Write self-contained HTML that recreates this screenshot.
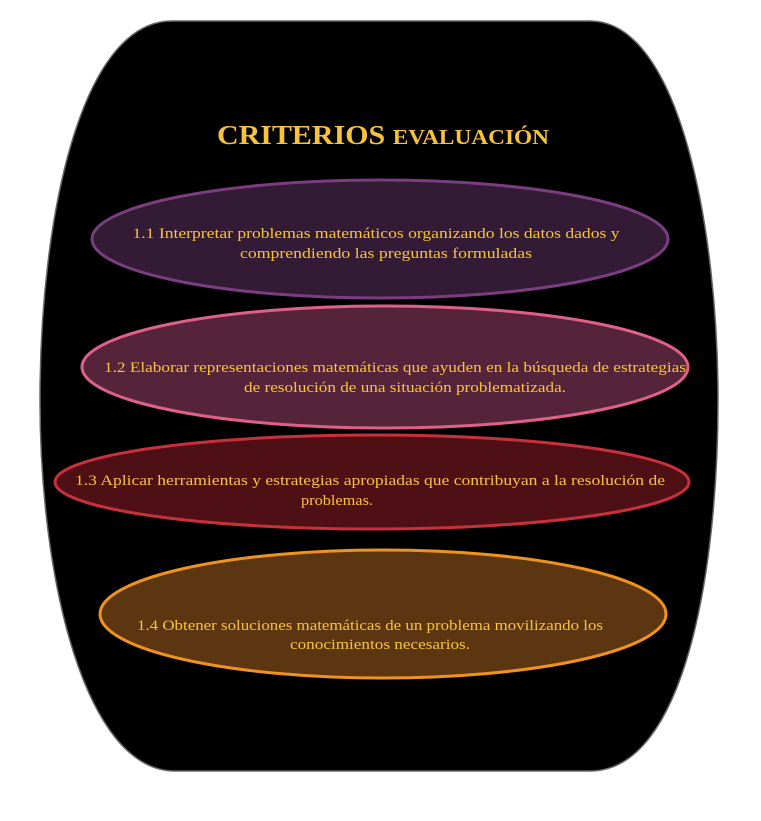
<!DOCTYPE html>
<html><head><meta charset="utf-8"><style>
html,body{margin:0;padding:0;background:#fff;}
svg{display:block;}
text{font-family:"Liberation Serif",serif;fill:#f8c23c;}
</style></head><body>
<svg width="761" height="821" viewBox="0 0 761 821" xmlns="http://www.w3.org/2000/svg">
<path d="M172,21 L590,21 C680,21 718,230 718,400 C718,570 685,771 590,771 L175,771 C85,771 40,580 40,400 C40,220 80,21 172,21 Z" fill="#000" stroke="#666" stroke-width="1.5"/>
<text x="383" y="144" text-anchor="middle" font-weight="bold" font-size="27" textLength="332" lengthAdjust="spacingAndGlyphs">CRITERIOS <tspan font-size="21">EVALUACIÓN</tspan></text>

<ellipse cx="380" cy="239" rx="288" ry="59" fill="#331a35" stroke="#7b3d80" stroke-width="3"/>
<text x="376" y="238" text-anchor="middle" font-size="15" textLength="487" lengthAdjust="spacingAndGlyphs">1.1 Interpretar problemas matemáticos organizando los datos dados y</text>
<text x="386" y="258" text-anchor="middle" font-size="15" textLength="292" lengthAdjust="spacingAndGlyphs">comprendiendo las preguntas formuladas</text>

<ellipse cx="385" cy="367" rx="303" ry="61" fill="#55243a" stroke="#e0608a" stroke-width="3"/>
<text x="395" y="372" text-anchor="middle" font-size="15" textLength="582" lengthAdjust="spacingAndGlyphs">1.2 Elaborar representaciones matemáticas que ayuden en la búsqueda de estrategias</text>
<text x="405" y="392" text-anchor="middle" font-size="15" textLength="322" lengthAdjust="spacingAndGlyphs">de resolución de una situación problematizada.</text>

<ellipse cx="372" cy="482" rx="317" ry="47" fill="#4f1015" stroke="#c8303c" stroke-width="3"/>
<text x="370" y="485" text-anchor="middle" font-size="15" textLength="590" lengthAdjust="spacingAndGlyphs">1.3 Aplicar herramientas y estrategias apropiadas que contribuyan a la resolución de</text>
<text x="301" y="505" font-size="15" textLength="72" lengthAdjust="spacingAndGlyphs">problemas.</text>

<ellipse cx="383" cy="614" rx="283" ry="64" fill="#5c3610" stroke="#f0921f" stroke-width="3"/>
<text x="370" y="630" text-anchor="middle" font-size="15" textLength="466" lengthAdjust="spacingAndGlyphs">1.4 Obtener soluciones matemáticas de un problema movilizando los</text>
<text x="380" y="649" text-anchor="middle" font-size="15" textLength="180" lengthAdjust="spacingAndGlyphs">conocimientos necesarios.</text>
</svg>
</body></html>
